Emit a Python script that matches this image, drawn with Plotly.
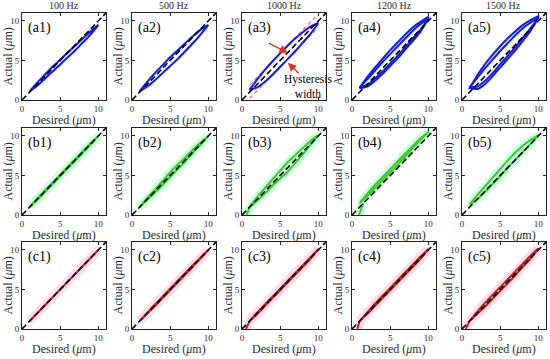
import plotly.graph_objects as go
from plotly.subplots import make_subplots

# ---------------- data ----------------
freqs = ["100 Hz", "500 Hz", "1000 Hz", "1200 Hz", "1500 Hz"]
row_letters = ["a", "b", "c"]
tick_vals = [0, 5, 10]
tick_text = ["0", "5", "10"]
diag = [0, 11]

# desired displacement grid (um) for the loop branches
X = [1, 2, 3, 4, 5, 6, 7, 8, 9, 10]

# row a: no compensation (blue) -- lower (rising) and upper (falling) branches
a1_low = [1.1, 1.8, 2.7, 3.6, 4.5, 5.4, 6.3, 7.3, 8.3, 9.5]
a1_up = [1.1, 2.2, 3.2, 4.2, 5.1, 6.0, 6.9, 7.8, 8.7, 9.5]
a2_low = [1.1, 1.7, 2.5, 3.4, 4.3, 5.2, 6.2, 7.2, 8.3, 9.5]
a2_up = [1.1, 2.3, 3.4, 4.4, 5.4, 6.3, 7.2, 8.1, 8.9, 9.5]
a3_low = [1.3, 1.6, 2.3, 3.2, 4.2, 5.2, 6.2, 7.3, 8.4, 9.7]
a3_up = [1.3, 2.6, 3.8, 4.9, 5.9, 6.9, 7.8, 8.6, 9.3, 9.7]
a4_low = [1.5, 1.7, 2.4, 3.3, 4.3, 5.3, 6.4, 7.5, 8.7, 10.4]
a4_up = [1.5, 2.9, 4.1, 5.2, 6.3, 7.3, 8.3, 9.2, 9.9, 10.5]
a4_in_low = [1.6, 1.9, 2.7, 3.6, 4.6, 5.6, 6.7, 7.8, 8.9, 10.3]
a4_in_up = [1.6, 2.6, 3.7, 4.8, 5.8, 6.8, 7.8, 8.8, 9.6, 10.3]
a5_low = [1.5, 1.4, 2.0, 3.0, 4.1, 5.2, 6.3, 7.5, 8.8, 10.5]
a5_up = [1.5, 3.1, 4.5, 5.7, 6.8, 7.8, 8.7, 9.5, 10.1, 10.6]
a5_in_low = [1.6, 1.7, 2.4, 3.4, 4.5, 5.6, 6.7, 7.9, 9.1, 10.4]
a5_in_up = [1.6, 2.8, 4.0, 5.1, 6.2, 7.2, 8.2, 9.1, 9.8, 10.4]

# row b: compensated (green)
b1_low = [1.0, 1.9, 2.9, 3.9, 4.9, 5.9, 6.9, 7.9, 8.9, 10.0]
b1_up = [1.0, 2.1, 3.1, 4.1, 5.1, 6.1, 7.1, 8.1, 9.1, 10.0]
b2_low = [1.0, 1.9, 2.8, 3.8, 4.8, 5.8, 6.8, 7.9, 8.9, 10.0]
b2_up = [1.0, 2.2, 3.2, 4.3, 5.4, 6.4, 7.3, 8.3, 9.2, 10.0]
b3_low = [1.0, 1.8, 2.7, 3.7, 4.6, 5.5, 6.6, 7.7, 8.9, 10.1]
b3_up = [1.0, 2.3, 3.4, 4.5, 5.6, 6.7, 7.6, 8.5, 9.4, 10.1]
b4_low = [1.5, 2.4, 3.4, 4.4, 5.4, 6.4, 7.4, 8.5, 9.5, 10.5]
b4_up = [1.5, 2.7, 3.8, 4.8, 5.8, 6.8, 7.8, 8.8, 9.7, 10.5]
b5_low = [1.3, 2.0, 2.9, 3.9, 4.9, 6.0, 7.0, 8.0, 9.0, 10.1]
b5_up = [1.3, 2.5, 3.6, 4.7, 5.8, 6.9, 7.9, 8.8, 9.5, 10.1]

# row c: proposed method (red)
c1_low = [1.0, 2.0, 3.0, 4.0, 5.0, 6.0, 7.0, 8.0, 9.0, 10.0]
c1_up = [1.0, 2.0, 3.0, 4.0, 5.0, 6.0, 7.0, 8.0, 9.0, 10.0]
c2_low = [1.0, 1.95, 2.9, 3.9, 4.9, 5.9, 6.9, 7.9, 8.95, 10.0]
c2_up = [1.0, 2.05, 3.1, 4.1, 5.1, 6.1, 7.1, 8.1, 9.05, 10.0]
c3_low = [1.0, 1.9, 2.9, 3.9, 4.9, 5.9, 6.9, 7.9, 8.9, 10.1]
c3_up = [1.0, 2.1, 3.1, 4.1, 5.1, 6.1, 7.1, 8.1, 9.1, 10.1]
c4_low = [1.0, 1.9, 2.9, 3.9, 4.9, 5.9, 6.9, 7.9, 8.9, 10.1]
c4_up = [1.0, 2.1, 3.2, 4.2, 5.2, 6.2, 7.2, 8.2, 9.2, 10.1]
c5_low = [1.0, 1.9, 2.8, 3.8, 4.8, 5.8, 6.8, 7.9, 8.9, 10.2]
c5_up = [1.0, 2.2, 3.3, 4.3, 5.3, 6.3, 7.3, 8.3, 9.3, 10.2]

# start-up transients (x, y)
start_x = {"b3": [0.6, 1.0], "b4": [0.9, 1.2, 1.5], "c3": [0.5, 1.0], "c4": [0.7, 1.0], "c5": [0.5, 1.0]}
start_y = {"b3": [0.0, 1.0], "b4": [0.0, 0.9, 1.5], "c3": [0.0, 1.0], "c4": [0.0, 1.0], "c5": [0.0, 1.0]}

loops = {
    "a1": [(a1_low, a1_up)], "a2": [(a2_low, a2_up)], "a3": [(a3_low, a3_up)],
    "a4": [(a4_low, a4_up), (a4_in_low, a4_in_up)],
    "a5": [(a5_low, a5_up), (a5_in_low, a5_in_up)],
    "b1": [(b1_low, b1_up)], "b2": [(b2_low, b2_up)], "b3": [(b3_low, b3_up)],
    "b4": [(b4_low, b4_up)], "b5": [(b5_low, b5_up)],
    "c1": [(c1_low, c1_up)], "c2": [(c2_low, c2_up)], "c3": [(c3_low, c3_up)],
    "c4": [(c4_low, c4_up)], "c5": [(c5_low, c5_up)],
}

# hysteresis width markers in (a3)
hw_x = [1.0, 9.6]
hw_up = [1.9, 10.5]
hw_low = [0.2, 8.8]

# ---------------- style ----------------
FONT = "Liberation Serif"
TXT = "#2a2a2a"
line_col = {"a": "#1a1ad2", "b": "#3cc82a", "c": "#b8281e"}
halo_col = {"a": "rgba(205,235,255,0.5)", "b": "rgba(185,255,215,0.75)", "c": "rgba(255,205,232,0.75)"}
halo_w = {"a": 4, "b": 8, "c": 9}

W, H = 550, 359
col_left = [22, 132, 242, 352, 462]
pw, ph = 84, 87
row_top = [13, 128, 242]

fig = make_subplots(rows=3, cols=5)

for r, letter in enumerate(row_letters):
    for c in range(5):
        key = f"{letter}{c+1}"
        for low, up in loops[key]:
            xs = X + X[::-1] + [X[0]]
            ys = low + up[::-1] + [low[0]]
            fig.add_trace(go.Scatter(x=xs, y=ys, mode="lines",
                                     line=dict(color=halo_col[letter], width=halo_w[letter], shape="spline", smoothing=0.6),
                                     hoverinfo="skip", showlegend=False), row=r+1, col=c+1)
        if key in start_x:
            fig.add_trace(go.Scatter(x=start_x[key], y=start_y[key], mode="lines",
                                     line=dict(color=halo_col[letter], width=halo_w[letter]),
                                     showlegend=False), row=r+1, col=c+1)
        if key == "a3":
            for yy in (hw_up, hw_low):
                fig.add_trace(go.Scatter(x=hw_x, y=yy, mode="lines",
                                         line=dict(color="#ff5a78", width=1.1, dash="4px,3px"),
                                         showlegend=False), row=r+1, col=c+1)
        for low, up in loops[key]:
            xs = X + X[::-1] + [X[0]]
            ys = low + up[::-1] + [low[0]]
            fig.add_trace(go.Scatter(x=xs, y=ys, mode="lines",
                                     line=dict(color=line_col[letter], width=2, shape="spline", smoothing=0.6),
                                     showlegend=False), row=r+1, col=c+1)
        if key in start_x:
            fig.add_trace(go.Scatter(x=start_x[key], y=start_y[key], mode="lines",
                                     line=dict(color=line_col[letter], width=2),
                                     showlegend=False), row=r+1, col=c+1)
        fig.add_trace(go.Scatter(x=diag, y=diag, mode="lines",
                                 line=dict(color="black", width=1.6, dash="6px,3px"),
                                 showlegend=False), row=r+1, col=c+1)

        idx = r * 5 + c + 1
        xa = "xaxis" if idx == 1 else f"xaxis{idx}"
        ya = "yaxis" if idx == 1 else f"yaxis{idx}"
        x0 = col_left[c] / W
        x1 = (col_left[c] + pw) / W
        y1 = 1 - row_top[r] / H
        y0 = 1 - (row_top[r] + ph) / H
        axis_common = dict(range=[0, 11], tickvals=tick_vals, ticktext=tick_text, showgrid=False, zeroline=False,
                           showline=True, linecolor="#222", linewidth=1, mirror="ticks", ticks="inside",
                           ticklen=3, tickcolor="#222", automargin=False,
                           tickfont=dict(family=FONT, size=9, color=TXT))
        fig.layout[xa].update(domain=[x0, x1], **axis_common)
        fig.layout[ya].update(domain=[y0, y1], **axis_common)
        xr = "x" if idx == 1 else f"x{idx}"
        yr = "y" if idx == 1 else f"y{idx}"
        # axis titles
        fig.add_annotation(x=(col_left[c] + pw / 2) / W, y=1 - (row_top[r] + ph + 20) / H, xref="paper", yref="paper",
                           text="Desired (<i>μ</i>m)", showarrow=False, xanchor="center", yanchor="middle",
                           font=dict(family=FONT, size=12, color=TXT))
        fig.add_annotation(x=(col_left[c] - 15) / W, y=1 - (row_top[r] + ph / 2) / H, xref="paper", yref="paper",
                           text="Actual (<i>μ</i>m)", showarrow=False, textangle=-90, xanchor="center", yanchor="middle",
                           font=dict(family=FONT, size=12, color=TXT))
        fig.add_annotation(x=0.05, y=0.94, xref=f"{xr} domain", yref=f"{yr} domain", text=f"({key})",
                           showarrow=False, xanchor="left", yanchor="top",
                           font=dict(family=FONT, size=14, color="black"))
        if r == 0:
            fig.add_annotation(x=(x0 + x1) / 2, y=1 - 6 / H, xref="paper", yref="paper", text=freqs[c],
                               showarrow=False, xanchor="center", yanchor="middle",
                               font=dict(family=FONT, size=10, color=TXT))
        if key == "a3":
            fig.add_annotation(x=6.0, y=5.95, ax=3.3, ay=7.3, xref=xr, yref=yr, axref=xr, ayref=yr,
                               text="", showarrow=True, arrowhead=2, arrowsize=1.2, arrowwidth=1.4,
                               arrowcolor="#d8322a")
            fig.add_annotation(x=6.0, y=4.7, ax=7.6, ay=3.2, xref=xr, yref=yr, axref=xr, ayref=yr,
                               text="", showarrow=True, arrowhead=2, arrowsize=1.2, arrowwidth=1.4,
                               arrowcolor="#d8322a")
            fig.add_annotation(x=8.7, y=1.65, xref=xr, yref=yr, text="Hysteresis<br>width", showarrow=False,
                               xanchor="center", yanchor="middle",
                               align="center", font=dict(family=FONT, size=11.5, color="black"))

fig.update_layout(width=W, height=H, margin=dict(l=0, r=0, t=0, b=0),
                  paper_bgcolor="white", plot_bgcolor="white", showlegend=False)

fig.write_html("out.html", config={"displayModeBar": False},
               post_script="document.body.style.margin='0';document.body.style.padding='0';")
